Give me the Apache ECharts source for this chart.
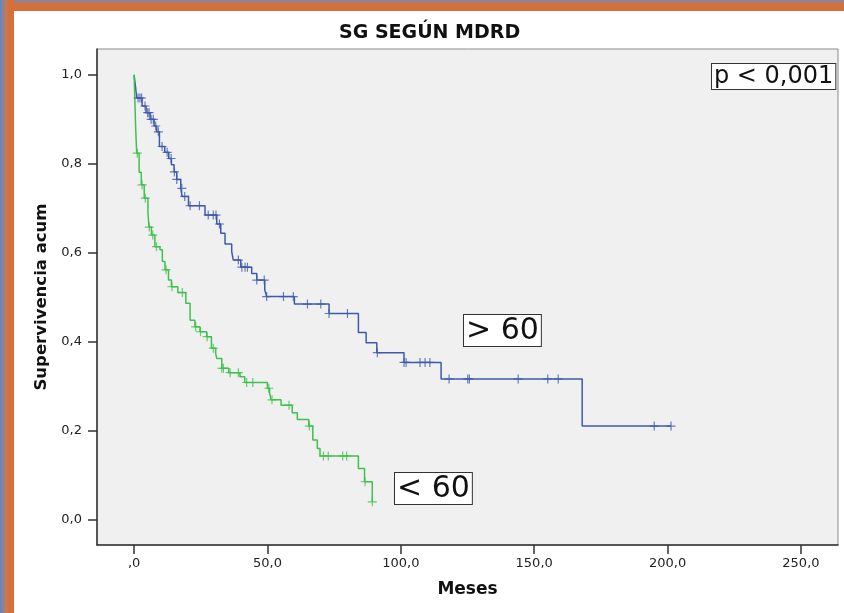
<!DOCTYPE html>
<html>
<head>
<meta charset="utf-8">
<script src="https://cdn.jsdelivr.net/npm/echarts@6/dist/echarts.min.js"></script>
<style>
  html, body { margin: 0; padding: 0; background: #ffffff; }
  #chart { width: 844px; height: 613px; }
</style>
</head>
<body>
<div id="chart"></div>
<script>
// Kaplan-Meier survival by MDRD group (months)
// Each step: time (months) and cumulative survival after that event
const highTimes = [0, 0.5, 1.0, 3.0, 4.5, 6.0, 7.5, 8.5, 9.5, 11.5, 13.0, 14.0, 15.0, 16.0, 17.5, 18.0, 20.4, 26.6, 31.0, 32.5, 34.1, 36.6, 37.2, 40.0, 44.1, 46.0, 49.0, 49.7, 60.1, 73.1, 84.1, 87.0, 91.0, 101.2, 115.1, 168.0, 201.3];
const highSurv  = [1.0, 0.975, 0.948, 0.930, 0.915, 0.900, 0.885, 0.872, 0.839, 0.826, 0.812, 0.798, 0.782, 0.765, 0.745, 0.727, 0.706, 0.685, 0.665, 0.644, 0.620, 0.603, 0.584, 0.568, 0.554, 0.539, 0.517, 0.502, 0.485, 0.464, 0.421, 0.398, 0.376, 0.354, 0.317, 0.211, 0.211];
const highCensored = [1.5, 2.2, 2.8, 4.1, 5.1, 5.6, 6.4, 7.2, 8.1, 9.1, 10.5, 12.4, 13.9, 15.1, 16.0, 17.9, 19.0, 21.0, 24.5, 27.8, 29.7, 30.7, 32.0, 39.1, 40.4, 41.6, 42.5, 46.0, 48.8, 49.7, 56.0, 59.7, 65.0, 70.0, 73.1, 80.0, 91.2, 101.2, 102.0, 107.2, 109.1, 110.9, 118.1, 125.1, 125.7, 144.0, 155.1, 159.0, 195.0, 201.3];

const lowTimes = [0, 0.2, 0.4, 0.6, 0.8, 1.0, 1.9, 2.7, 3.8, 5.2, 5.6, 6.5, 7.8, 9.7, 10.6, 11.6, 12.9, 14.0, 16.4, 19.4, 21.0, 22.8, 24.7, 27.2, 29.0, 30.6, 31.0, 32.9, 35.5, 39.7, 41.5, 50.0, 50.8, 51.4, 55.1, 59.3, 61.2, 65.5, 67.0, 68.7, 69.7, 84.1, 86.4, 89.3];
const lowSurv  = [1.0, 0.96, 0.92, 0.88, 0.85, 0.824, 0.781, 0.753, 0.723, 0.689, 0.658, 0.640, 0.614, 0.607, 0.581, 0.562, 0.539, 0.524, 0.511, 0.487, 0.449, 0.434, 0.423, 0.412, 0.386, 0.374, 0.363, 0.341, 0.331, 0.322, 0.309, 0.296, 0.285, 0.270, 0.258, 0.241, 0.226, 0.211, 0.180, 0.161, 0.144, 0.116, 0.086, 0.041];
const lowCensored = [1.2, 3.0, 4.2, 5.7, 7.0, 8.4, 12.0, 14.2, 18.1, 23.1, 24.9, 27.4, 29.7, 32.9, 33.5, 36.0, 39.1, 42.2, 44.5, 50.5, 51.7, 58.1, 65.7, 71.0, 72.8, 78.2, 79.7, 86.6, 89.3];

const xTicks = [0, 50, 100, 150, 200, 250];
const xTickLabels = [',0', '50,0', '100,0', '150,0', '200,0', '250,0'];
const yTicks = [0, 0.2, 0.4, 0.6, 0.8, 1.0];
const yTickLabels = ['0,0', '0,2', '0,4', '0,6', '0,8', '1,0'];

const groupLabels = ['> 60', '< 60'];
const pLabel = 'p < 0,001';

// survival value of a step function at time t
function survAt(times, surv, t) {
  let s = surv[0];
  for (let i = 0; i < times.length; i++) {
    if (times[i] <= t + 1e-9) s = surv[i]; else break;
  }
  return s;
}
const pairs = (a, b) => a.map((v, i) => [v, b[i]]);
const censorPoints = (ct, times, surv) => ct.map(t => [t, survAt(times, surv, t)]);

const BLUE = '#3d5aae';
const GREEN = '#40c04e';
const plusSymbol = 'path://M-0.13,-1H0.13V-0.13H1V0.13H0.13V1H-0.13V0.13H-1V-0.13H-0.13Z';
const FONT = 'DejaVu Sans';

const chart = echarts.init(document.getElementById('chart'), null, { renderer: 'canvas' });

const boxText = (text, x, y, size) => ({
  type: 'text',
  left: x, top: y,
  style: {
    text: text,
    font: size + 'px "' + FONT + '"',
    fill: '#111',
    backgroundColor: '#ffffff',
    borderColor: '#333',
    borderWidth: 1,
    padding: [1, 2, 0, 2]
  },
  z: 20
});

chart.setOption({
  animation: false,
  backgroundColor: '#ffffff',
  grid: {
    left: 97, right: 6, top: 49, bottom: 68,
    show: true,
    backgroundColor: '#f0f0f0',
    borderColor: '#8a8a8a',
    borderWidth: 1
  },
  xAxis: {
    type: 'value',
    min: -13.9, max: 263.9,
    name: 'Meses',
    nameLocation: 'middle',
    nameGap: 36,
    nameTextStyle: { fontFamily: FONT, fontWeight: 'bold', fontSize: 17, color: '#111' },
    axisLine: { show: true, onZero: false, lineStyle: { color: '#333', width: 1.5 } },
    axisTick: { show: true, length: 9, customValues: xTicks, lineStyle: { color: '#333', width: 1.5 } },
    axisLabel: {
      customValues: xTicks,
      margin: 12,
      fontFamily: FONT, fontSize: 13, color: '#222',
      formatter: v => xTickLabels[xTicks.indexOf(Math.round(v))]
    },
    splitLine: { show: false }
  },
  yAxis: {
    type: 'value',
    min: -0.056, max: 1.058,
    name: 'Supervivencia acum',
    nameLocation: 'middle',
    nameGap: 38,
    nameTextStyle: { fontFamily: FONT, fontWeight: 'bold', fontSize: 16.5, color: '#111' },
    axisLine: { show: true, onZero: false, lineStyle: { color: '#333', width: 1.5 } },
    axisTick: { show: true, length: 9, customValues: yTicks, lineStyle: { color: '#333', width: 1.5 } },
    axisLabel: {
      customValues: yTicks,
      margin: 15,
      fontFamily: FONT, fontSize: 13, color: '#222',
      formatter: v => yTickLabels[yTicks.findIndex(t => Math.abs(t - v) < 1e-6)]
    },
    splitLine: { show: false }
  },
  series: [
    {
      type: 'line', step: 'end', data: pairs(highTimes, highSurv),
      showSymbol: false, lineStyle: { color: BLUE, width: 1.5 }, z: 3
    },
    {
      type: 'line', step: 'end', data: pairs(lowTimes, lowSurv),
      showSymbol: false, lineStyle: { color: GREEN, width: 1.5 }, z: 4
    },
    {
      type: 'scatter', data: censorPoints(highCensored, highTimes, highSurv),
      symbol: plusSymbol, symbolSize: 9, itemStyle: { color: BLUE }, z: 5
    },
    {
      type: 'scatter', data: censorPoints(lowCensored, lowTimes, lowSurv),
      symbol: plusSymbol, symbolSize: 9, itemStyle: { color: GREEN }, z: 6
    }
  ],
  graphic: [
    // frame strips along the top and left edges
    {
      type: 'rect', shape: { x: 0, y: 0, width: 844, height: 11 },
      style: { fill: new echarts.graphic.LinearGradient(0, 0, 0, 1, [
        { offset: 0, color: '#8088a8' }, { offset: 0.4, color: '#d4703c' }, { offset: 1, color: '#d6703a' }
      ]) }, z: 30
    },
    {
      type: 'rect', shape: { x: 0, y: 0, width: 14, height: 613 },
      style: { fill: new echarts.graphic.LinearGradient(0, 0, 1, 0, [
        { offset: 0, color: '#5a88cc' }, { offset: 0.45, color: '#c97a55' }, { offset: 0.6, color: '#d4703c' }, { offset: 1, color: '#d6703a' }
      ]) }, z: 31
    },
    {
      type: 'text', left: 339, top: 24,
      style: { text: 'SG SEGÚN MDRD', font: 'bold 19px "' + FONT + '"', fill: '#111' },
      z: 20
    },
    boxText(pLabel, 711, 63, 24),
    boxText(groupLabels[0], 463, 314, 30),
    boxText(groupLabels[1], 394, 472, 30)
  ]
});
</script>
</body>
</html>
